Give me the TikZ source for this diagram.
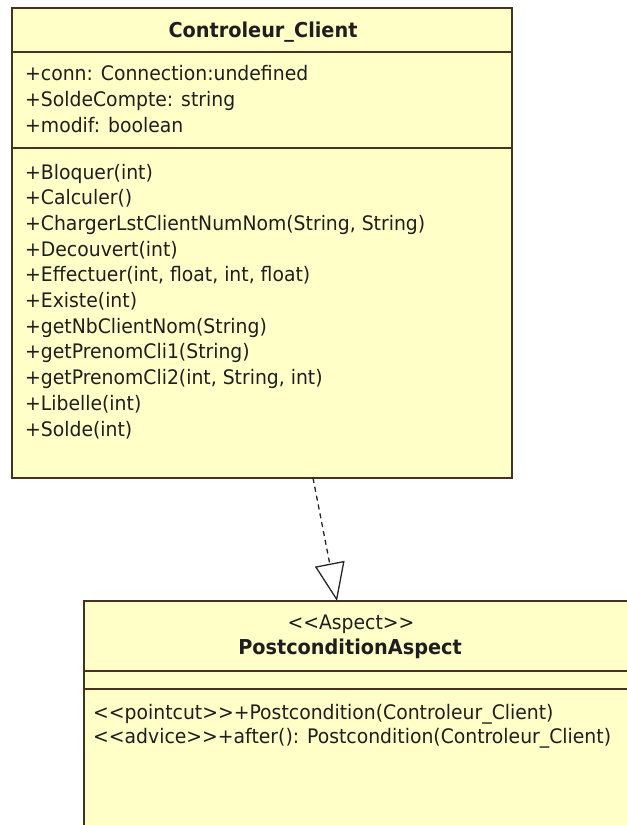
\documentclass[tikz,border=0pt]{standalone}
\usepackage{fontspec}
\setmainfont{DejaVu Sans}[FakeStretch=0.94]
\usetikzlibrary{arrows.meta,calc}

\definecolor{umlfill}{HTML}{FFFFC8}
\definecolor{umlline}{HTML}{4A3020}
\definecolor{umltext}{HTML}{1E1E1E}

% guillemet-free stereotype brackets
\newcommand{\stl}{{<}{<}}
\newcommand{\str}{{>}{>}}

\tikzset{
  classbox/.style={draw=umlline, fill=umlfill, line width=1.4bp, rectangle,
    anchor=north west, inner sep=0pt, outer sep=0pt},
  sepline/.style={draw=umlline, line width=1.4bp},
  member/.style={anchor=base west, inner sep=0pt, text=umltext,
    font=\fontsize{20bp}{25bp}\selectfont},
  titletext/.style={anchor=base, inner sep=0pt, text=umltext,
    font=\fontsize{20.5bp}{25bp}\selectfont\bfseries},
  stereo/.style={anchor=base, inner sep=0pt, text=umltext,
    font=\fontsize{20bp}{25bp}\selectfont},
  realize/.style={draw=black!85, line width=1.3bp, dash pattern=on 5bp off 4bp,
    -{Triangle[length=38bp, width=30bp, fill=white]}},
}

\begin{document}
\begin{tikzpicture}[x=1bp, y=-1bp]
  \clip (0,0) rectangle (627,825);
  \fill[white] (0,0) rectangle (627,825);

  % class Controleur_Client
  \node[classbox, minimum width=500bp, minimum height=470bp] (ctl) at (12,8) {};
  \draw[sepline] ([yshift=-44bp]ctl.north west) -- ([yshift=-44bp]ctl.north east);
  \draw[sepline] ([yshift=-140bp]ctl.north west) -- ([yshift=-140bp]ctl.north east);
  \node[titletext] (ctltitle) at (263,37) {Controleur\_Client};

  \node[member] (a1) at (25,80)  {+conn: Connection:undefined};
  \node[member] (a2) at (25,106) {+SoldeCompte: string};
  \node[member] (a3) at (25,132) {+modif: boolean};

  \node[member] (m1)  at (25,179.0) {+Bloquer(int)};
  \node[member] (m2)  at (25,204.7) {+Calculer()};
  \node[member] (m3)  at (25,230.4) {+ChargerLstClientNumNom(String, String)};
  \node[member] (m4)  at (25,256.1) {+Decouvert(int)};
  \node[member] (m5)  at (25,281.8) {+Effectuer(int, float, int, float)};
  \node[member] (m6)  at (25,307.5) {+Existe(int)};
  \node[member] (m7)  at (25,333.2) {+getNbClientNom(String)};
  \node[member] (m8)  at (25,358.9) {+getPrenomCli1(String)};
  \node[member] (m9)  at (25,384.6) {+getPrenomCli2(int, String, int)};
  \node[member] (m10) at (25,410.3) {+Libelle(int)};
  \node[member] (m11) at (25,436.0) {+Solde(int)};

  % aspect PostconditionAspect
  \node[classbox, minimum width=560bp, minimum height=260bp] (asp) at (84,601) {};
  \draw[sepline] ([yshift=-70bp]asp.north west) -- ([yshift=-70bp]asp.north east);
  \draw[sepline] ([yshift=-88bp]asp.north west) -- ([yshift=-88bp]asp.north east);
  \node[stereo] (aspstereo) at (351,629) {\stl Aspect\str};
  \node[titletext] (asptitle) at (350,654) {PostconditionAspect};
  \node[member] (p1) at (93,719) {\stl pointcut\str+Postcondition(Controleur\_Client)};
  \node[member] (p2) at (93,743) {\stl advice\str+after(): Postcondition(Controleur\_Client)};

  % realization from the aspect's target class
  \draw[realize] ([xshift=301bp]ctl.south west) -- ([xshift=253bp]asp.north west);
\end{tikzpicture}
\end{document}
